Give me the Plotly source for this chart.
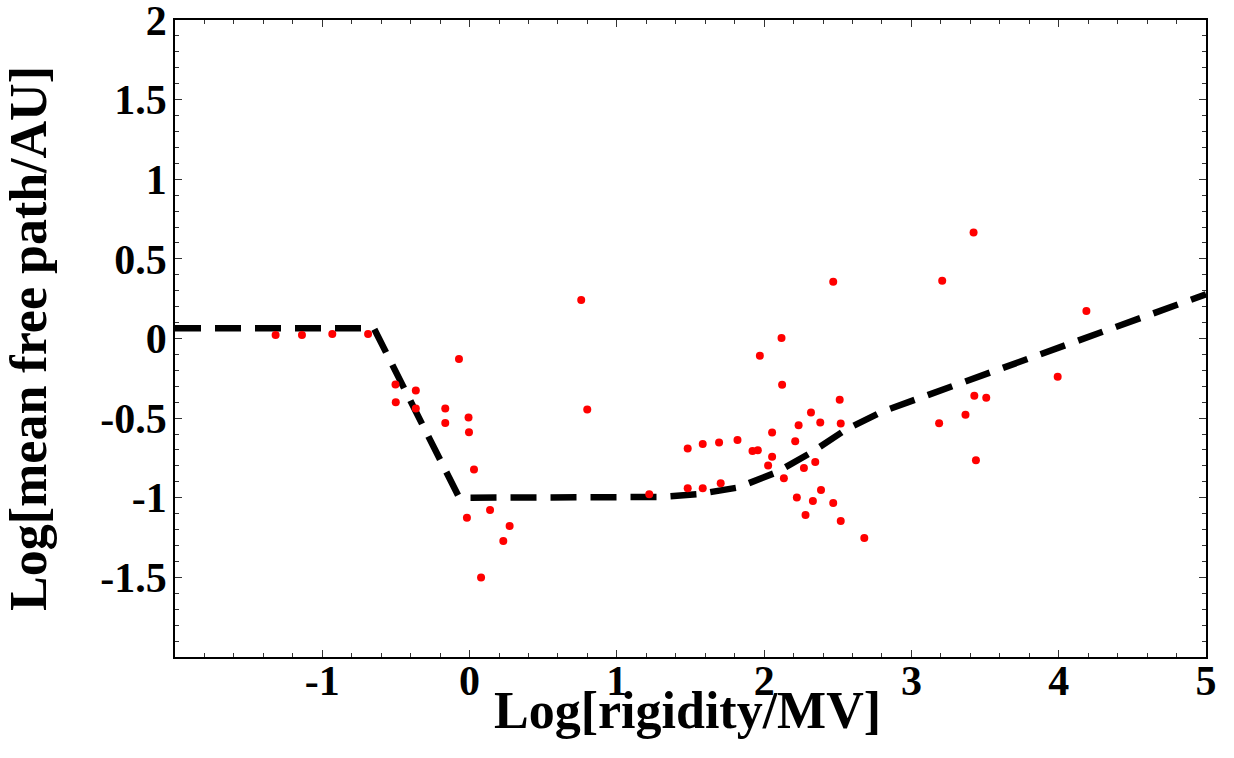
import plotly.graph_objects as go

# Observed data (log10 rigidity [MV], log10 mean free path [AU])
data_x = [-1.317, -1.138, -0.932, -0.689, -0.072, -0.503, -0.365, -0.501, -0.365, -0.165,
          -0.165, -0.007, -0.004, 0.030, -0.018, 0.139, 0.272, 0.229, 0.078,
          0.758, 0.799, 1.220,
          2.469, 2.118, 1.971, 2.122, 2.513, 2.318, 2.234, 2.381, 2.520, 2.054,
          2.211, 1.481, 1.583, 1.694, 1.819, 1.921, 1.957, 2.054, 2.027, 2.347,
          2.270, 2.134, 1.705, 1.481, 1.583, 2.386, 2.222, 2.331, 2.469, 2.281,
          2.520, 2.680,
          3.422, 3.209, 4.188, 3.993, 3.427, 3.508, 3.367, 3.188, 3.438]
data_y = [0.022, 0.022, 0.028, 0.028, -0.129, -0.289, -0.326, -0.400, -0.440, -0.440,
          -0.530, -0.496, -0.588, -0.823, -1.125, -1.077, -1.177, -1.272, -1.500,
          0.242, -0.446, -0.978,
          0.357, 0.003, -0.108, -0.290, -0.385, -0.465, -0.544, -0.528, -0.534, -0.590,
          -0.645, -0.691, -0.662, -0.653, -0.637, -0.706, -0.701, -0.743, -0.798, -0.775,
          -0.813, -0.877, -0.909, -0.940, -0.940, -0.951, -0.999, -1.020, -1.033, -1.108,
          -1.146, -1.253,
          0.665, 0.362, 0.173, -0.240, -0.360, -0.372, -0.479, -0.532, -0.764]

# Model curve
model_x = [-2.0, -0.65, -0.07, 1.0, 1.30, 1.55, 1.82, 2.08, 2.32, 2.56, 2.80, 5.0]
model_y = [0.065, 0.065, -1.0, -1.0, -0.995, -0.978, -0.936, -0.842, -0.716, -0.569, -0.46, 0.278]

x_ticks = [-1, 0, 1, 2, 3, 4, 5]
y_ticks = [-1.5, -1, -0.5, 0, 0.5, 1, 1.5, 2]

FONT = "Liberation Serif, Times New Roman, serif"

fig = go.Figure()
fig.add_trace(go.Scatter(x=model_x, y=model_y, mode="lines",
                         line=dict(color="black", width=6.5, dash="26px,14px"),
                         hoverinfo="skip", showlegend=False))
fig.add_trace(go.Scatter(x=data_x, y=data_y, mode="markers",
                         marker=dict(color="#ff0000", size=8, line=dict(width=0)),
                         showlegend=False))

axis_common = dict(showgrid=False, zeroline=False, showline=True, linecolor="black",
                   linewidth=1.5, mirror="ticks", ticks="inside", ticklen=7,
                   tickcolor="#333", tickwidth=1, ticklabeloverflow="allow",
                   tickfont=dict(family=FONT, size=42, color="black", weight="bold"))

fig.update_xaxes(range=[-2, 5], tickvals=x_ticks, ticktext=[str(v) for v in x_ticks],
                 minor=dict(dtick=0.2, tick0=0, ticklen=4, ticks="inside", tickcolor="#333"),
                 ticklabelstandoff=-14,
                 **axis_common)
fig.update_yaxes(range=[-2, 2], tickvals=y_ticks, ticktext=[f"{v:g}" for v in y_ticks],
                 minor=dict(dtick=0.1, tick0=0, ticklen=4, ticks="inside", tickcolor="#333"),
                 ticklabelstandoff=-2,
                 title=dict(text="Log[mean free path/AU]", standoff=52,
                            font=dict(family=FONT, size=52, color="black", weight="bold")),
                 **axis_common)

# x-axis title placed as an annotation to sit tight under the tick labels
fig.add_annotation(text="Log[rigidity/MV]", xref="paper", yref="paper",
                   x=0.497, y=-0.084, xanchor="center", yanchor="middle", showarrow=False,
                   font=dict(family=FONT, size=52, color="black", weight="bold"))

fig.update_layout(width=1234, height=758, plot_bgcolor="white", paper_bgcolor="white",
                  margin=dict(l=175, r=28, t=20, b=101, autoexpand=False))

# remove the default page margin so the figure fills the window exactly
fig.write_html("out.html", config={"displayModeBar": False},
               post_script="document.body.style.margin='0';")
